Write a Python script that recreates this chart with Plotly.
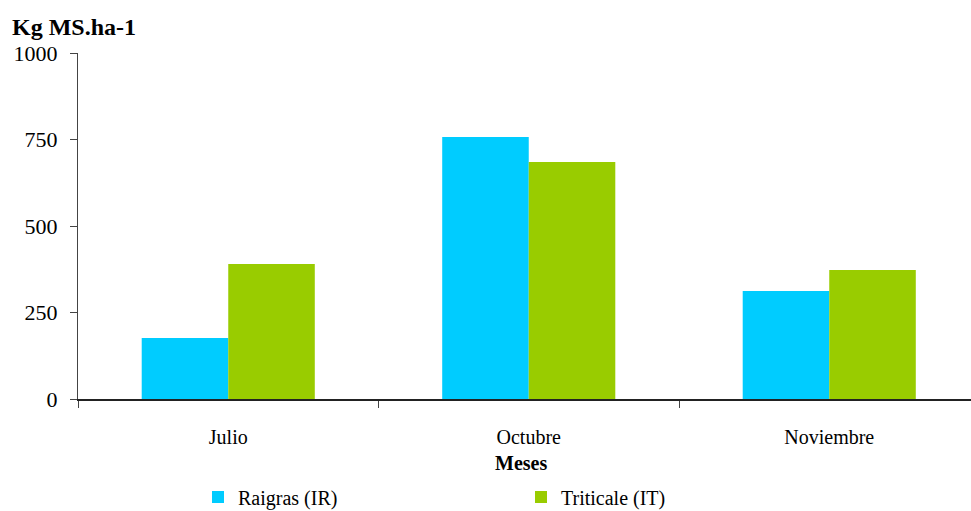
import plotly.graph_objects as go

categories = ["Julio", "Octubre", "Noviembre"]
raigras = [176, 757, 312]
triticale = [390, 685, 373]
y_ticks = [0, 250, 500, 750, 1000]

W, H = 971, 511
L, R, T, B = 78, 0, 53, 112
pw = W - L - R
ph = H - T - B

fig = go.Figure()
fig.add_trace(go.Bar(x=categories, y=raigras, name="Raigras (IR)",
                     marker=dict(color="#00CCFF", line=dict(width=0))))
fig.add_trace(go.Bar(x=categories, y=triticale, name="Triticale (IT)",
                     marker=dict(color="#99CC00", line=dict(width=0))))

font_family = "Liberation Serif, Times New Roman, serif"

def px_x(p):
    return (p - L) / pw

def px_y(p):
    return (H - B - p) / ph

fig.update_layout(
    width=W, height=H,
    margin=dict(l=L, r=R, t=T, b=B, pad=0, autoexpand=False),
    paper_bgcolor="white", plot_bgcolor="white",
    barmode="group", bargap=0.424, bargroupgap=0,
    font=dict(family=font_family, color="black", size=19),
    xaxis=dict(
        type="category",
        range=[-0.5, -0.5 + pw / 300.5],
        showline=True, linecolor="#222", linewidth=1.5,
        ticks="outside", tickson="boundaries", ticklen=7, tickcolor="#444",
        tickfont=dict(size=20, family=font_family, color="black"),
        ticklabelstandoff=19,
        showgrid=False, zeroline=False,
        automargin=False,
    ),
    yaxis=dict(
        range=[0, 1000],
        tickvals=y_ticks,
        showline=True, linecolor="#444", linewidth=1,
        ticks="outside", ticklen=7, tickcolor="#444",
        tickfont=dict(size=22, family=font_family, color="black"),
        ticklabelstandoff=8,
        showgrid=False, zeroline=False,
        automargin=False,
    ),
    showlegend=True,
    legend=dict(
        orientation="h",
        xref="container", yref="paper",
        x=198 / W, xanchor="left",
        y=px_y(497), yanchor="middle",
        font=dict(size=20, family=font_family, color="black"),
        entrywidth=278, entrywidthmode="pixels",
        itemsizing="constant",
        bgcolor="rgba(0,0,0,0)",
        borderwidth=0,
        tracegroupgap=0,
    ),
    annotations=[
        dict(text="<b>Kg MS.ha-1</b>", xref="paper", yref="paper",
             x=px_x(10), y=px_y(27), xanchor="left", yanchor="middle",
             showarrow=False, font=dict(size=24, family=font_family, color="black")),
        dict(text="<b>Meses</b>", xref="paper", yref="paper",
             x=px_x(521), y=px_y(463), xanchor="center", yanchor="middle",
             showarrow=False, font=dict(size=20, family=font_family, color="black")),
    ],
)

fig.write_html("out.html")
